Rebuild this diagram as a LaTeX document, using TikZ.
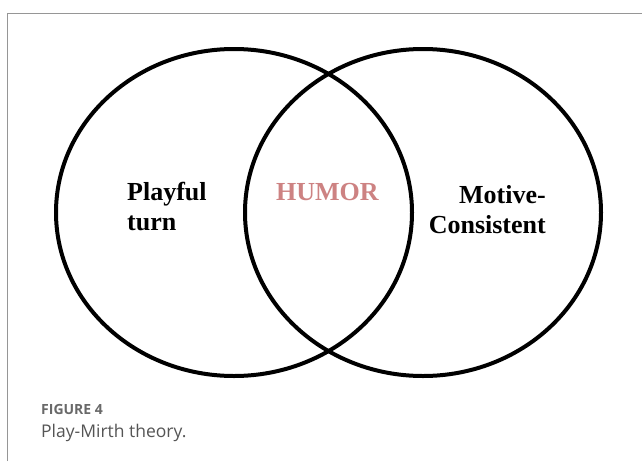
\documentclass[tikz,border=0pt]{standalone}
\usepackage{fontspec}
\setmainfont{Liberation Serif}
\newfontfamily\capfont{Open Sans}
\definecolor{framegray}{RGB}{150,150,150}
\definecolor{humorpink}{RGB}{205,130,130}
\definecolor{capgray}{RGB}{105,105,105}
\definecolor{captext}{RGB}{85,85,85}
\begin{document}
\begin{tikzpicture}[x=1pt,y=-1pt,
  venn/.style={draw=black,line width=4pt},
  lbl/.style={font=\fontsize{26}{28}\selectfont\bfseries,inner sep=0pt,anchor=base west},
  lblr/.style={font=\fontsize{26}{28}\selectfont\bfseries,inner sep=0pt,anchor=base east}]
\useasboundingbox (0,0) rectangle (642,461);
\fill[white] (0,0) rectangle (642,461);
\draw[framegray,line width=1.5pt] (7.5,461) -- (7.5,13.5) -- (642,13.5);
\draw[venn] (234,212.5) ellipse [x radius=178,y radius=163.5];
\draw[venn] (423,212.5) ellipse [x radius=178,y radius=163.5];
\node[lbl] (p1) at (127,200) {Playful};
\node[lbl] (p2) at (127,230.5) {turn};
\node[lbl,text=humorpink] (h) at (276,200.5) {HUMOR};
\node[lblr] (m1) at (546,203.5) {Motive-};
\node[lblr] (m2) at (546,233) {Consistent};
\node[inner sep=0pt,anchor=base west,text=capgray,font=\capfont\fontsize{14}{16}\selectfont\bfseries] (f) at (41,414) {FIGURE 4};
\node[inner sep=0pt,anchor=base west,text=captext,font=\capfont\fontsize{17.5}{20}\selectfont] (t) at (41,437.5) {Play-Mirth theory.};
\end{tikzpicture}
\end{document}
